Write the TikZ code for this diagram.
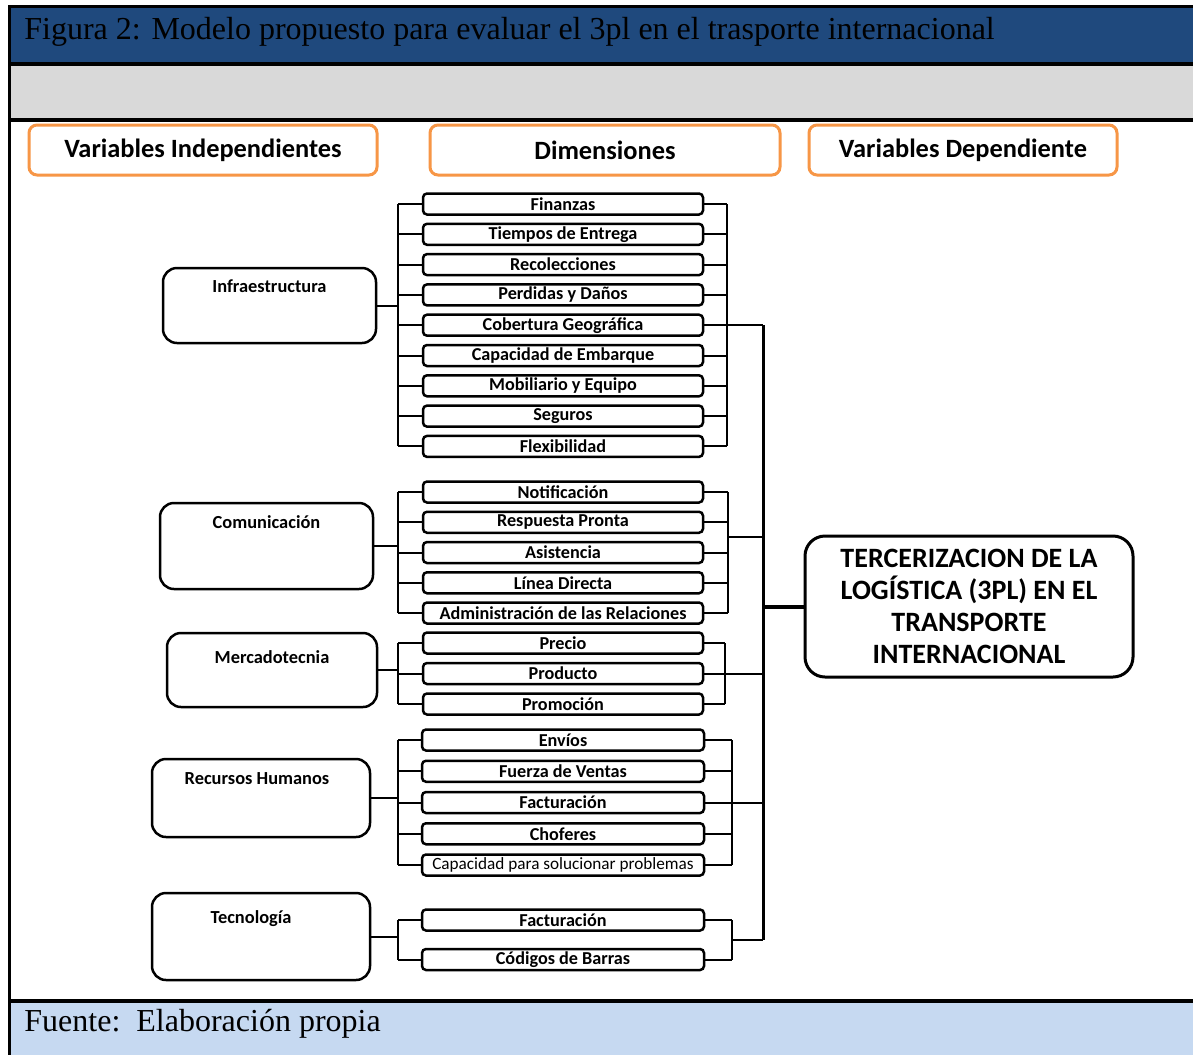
\documentclass[tikz,border=0pt]{standalone}
\usepackage{fontspec}
\setmainfont{Liberation Serif}
\newfontfamily\calib{Carlito}
\usetikzlibrary{positioning,calc}
\definecolor{hdrblue}{RGB}{31,73,125}
\definecolor{hdrgray}{RGB}{217,217,217}
\definecolor{ftrblue}{RGB}{198,217,241}
\definecolor{boxorange}{RGB}{247,150,70}
\newdimen\pxu
\pxu=0.5pt

\tikzset{
  colhead/.style={draw=boxorange, line width=3\pxu, rounded corners=8\pxu, fill=white,
    minimum height=50\pxu, font=\calib\bfseries\fontsize{13.2}{15}\selectfont},
  varbox/.style={draw, line width=2.5\pxu, rounded corners=14\pxu},
  vartext/.style={anchor=center, yshift=-20\pxu, font=\calib\bfseries\fontsize{9.2}{11}\selectfont},
  dimbox/.style={draw, line width=2.5\pxu, rounded corners=4\pxu, fill=white, inner sep=0pt,
    minimum width=280\pxu, minimum height=21\pxu, font=\calib\bfseries\fontsize{9.1}{11}\selectfont},
  link/.style={line width=2\pxu},
  caption/.style={anchor=base west, inner sep=0pt, font=\fontsize{16}{18}\selectfont}
}

\begin{document}
\begin{tikzpicture}[x=0.5pt, y=-0.5pt]
\useasboundingbox (0,0) rectangle (1193,1055);

% frame and bands
\fill[white] (0,0) rectangle (1193,1055);
\fill[hdrblue] (9,6) rectangle (1193,64);
\fill[hdrgray] (9,64) rectangle (1193,120);
\fill[ftrblue] (9,1001) rectangle (1193,1055);
\draw[line width=3\pxu] (1193,6.5) -- (9.5,6.5) -- (9.5,1055);
\draw[line width=4\pxu] (9.5,64) -- (1193,64);
\draw[line width=4\pxu] (9.5,120) -- (1193,120);
\draw[line width=4\pxu] (9.5,1001) -- (1193,1001);

\node[caption] (title) at (24,39) {Figura 2: Modelo propuesto para evaluar el 3pl en el trasporte internacional};
\node[caption] (source) at (24,1031) {Fuente:\ \ Elaboración propia};

% column headings
\node[colhead, minimum width=348\pxu] (indep) at (203,150) {Variables Independientes};
\node[colhead, minimum width=350\pxu] (dims) at (605,150) {Dimensiones};
\node[colhead, minimum width=308\pxu] (dep) at (963,150) {Variables Dependiente};

% independent variables
\node[varbox, minimum width=213\pxu, minimum height=75\pxu,
  label={[vartext, yshift=1\pxu]north:Infraestructura}] (infra) at (269.5,305.5) {};
\node[varbox, minimum width=213\pxu, minimum height=86\pxu,
  label={[vartext]north:Comunicación}] (comu) at (266.5,546) {};
\node[varbox, minimum width=210\pxu, minimum height=74\pxu,
  label={[vartext, yshift=-5\pxu]north:Mercadotecnia}] (merca) at (272,670) {};
\node[varbox, minimum width=218\pxu, minimum height=78\pxu,
  label={[vartext, yshift=-1\pxu, xshift=-4\pxu]north:Recursos Humanos}] (rrhh) at (261,798) {};
\node[varbox, minimum width=218\pxu, minimum height=87\pxu,
  label={[vartext, yshift=-7\pxu, xshift=-10\pxu]north:Tecnología}] (tecno) at (261,936.5) {};

% dimensions
\foreach \lbl [count=\k] in {Finanzas, Tiempos de Entrega, Recolecciones, Perdidas y Daños,
  Cobertura Geográfica, Capacidad de Embarque, Mobiliario y Equipo, Seguros, Flexibilidad}
  \node[dimbox] (i\k) at (563,{204+30.3*(\k-1)}) {\lbl};
\foreach \lbl [count=\k] in {Notificación, Respuesta Pronta, Asistencia, Línea Directa,
  Administración de las Relaciones}
  \node[dimbox] (c\k) at (563,{492+30.25*(\k-1)}) {\lbl};
\foreach \lbl [count=\k] in {Precio, Producto, Promoción}
  \node[dimbox] (m\k) at (563,{643+30.5*(\k-1)}) {\lbl};
\foreach \lbl [count=\k] in {Envíos, Fuerza de Ventas, Facturación, Choferes}
  \node[dimbox, minimum width=282\pxu] (h\k) at (563,{740+31.25*(\k-1)}) {\lbl};
\node[dimbox, minimum width=282\pxu, font=\calib\fontsize{8.6}{10}\selectfont] (h5) at (563,865)
  {Capacidad para solucionar problemas};
\node[dimbox, minimum width=282\pxu] (t1) at (563,920) {Facturación};
\node[dimbox, minimum width=282\pxu] (t2) at (563,959.5) {Códigos de Barras};

% dependent variable
\node[draw, line width=3\pxu, rounded corners=20\pxu, minimum width=328\pxu, minimum height=141\pxu,
  align=center, font=\calib\bfseries\fontsize{14}{16}\selectfont] (terc) at (969,606.5)
  {TERCERIZACION DE LA\\LOGÍSTICA (3PL) EN EL\\TRANSPORTE\\INTERNACIONAL};

% bracket positions
\coordinate (lb) at (398,0);
\coordinate (rb1) at (727,0);
\coordinate (rb2) at (728,0);
\coordinate (rb3) at (725,0);
\coordinate (rb4) at (732,0);
\coordinate (main) at (763,0);

% left brackets
\draw[link] (infra.east) -- (infra.east -| lb);
\draw[link] (lb |- i1.west) -- (lb |- i9.west);
\foreach \k in {1,...,9} \draw[link] (lb |- i\k.west) -- (i\k.west);
\draw[link] (comu.east) -- (comu.east -| lb);
\draw[link] (lb |- c1.west) -- (lb |- c5.west);
\foreach \k in {1,...,5} \draw[link] (lb |- c\k.west) -- (c\k.west);
\draw[link] (merca.east) -- (merca.east -| lb);
\draw[link] (lb |- m1.west) -- (lb |- m3.west);
\foreach \k in {1,...,3} \draw[link] (lb |- m\k.west) -- (m\k.west);
\draw[link] (rrhh.east) -- (rrhh.east -| lb);
\draw[link] (lb |- h1.west) -- (lb |- h5.west);
\foreach \k in {1,...,5} \draw[link] (lb |- h\k.west) -- (h\k.west);
\draw[link] (tecno.east) -- (tecno.east -| lb);
\draw[link] (lb |- t1.west) -- (lb |- t2.west);
\foreach \k in {1,2} \draw[link] (lb |- t\k.west) -- (t\k.west);

% right brackets
\draw[link] (rb1 |- i1.east) -- (rb1 |- i9.east);
\foreach \k in {1,...,9} \draw[link] (i\k.east) -- (rb1 |- i\k.east);
\draw[link] (rb2 |- c1.east) -- (rb2 |- c5.east);
\foreach \k in {1,...,5} \draw[link] (c\k.east) -- (rb2 |- c\k.east);
\draw[link] (rb3 |- m1.east) -- (rb3 |- m3.east);
\foreach \k in {1,...,3} \draw[link] (m\k.east) -- (rb3 |- m\k.east);
\draw[link] (rb4 |- h1.east) -- (rb4 |- h5.east);
\foreach \k in {1,...,5} \draw[link] (h\k.east) -- (rb4 |- h\k.east);
\draw[link] (rb4 |- t1.east) -- (rb4 |- t2.east);
\foreach \k in {1,2} \draw[link] (t\k.east) -- (rb4 |- t\k.east);

% joins to the main line
\coordinate (j2) at ($(rb2 |- c2.east)!0.5!(rb2 |- c3.east)$);
\coordinate (j5) at ($(rb4 |- t1.east)!0.5!(rb4 |- t2.east)$);
\draw[link] (i5.east) -- (i5.east -| main);
\draw[link] (j2) -- (j2 -| main);
\draw[link] (m2.east) -- (m2.east -| main);
\draw[link] (h3.east) -- (h3.east -| main);
\draw[link] (j5) -- (j5 -| main);
\draw[line width=3\pxu] (main |- i5.east) -- (main |- j5);
\draw[line width=4\pxu] (main |- terc.west) -- (terc.west);

\end{tikzpicture}
\end{document}
